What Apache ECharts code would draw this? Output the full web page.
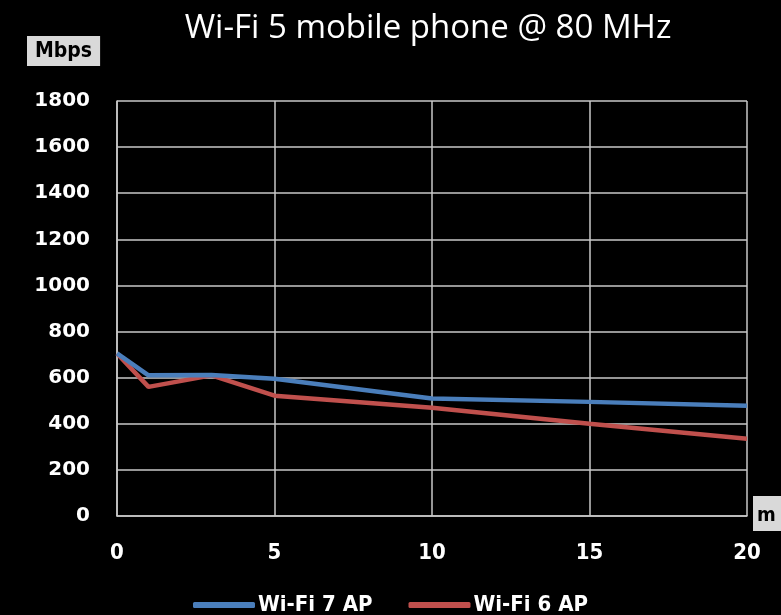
<!DOCTYPE html>
<html><head><meta charset="utf-8">
<script src="https://cdn.jsdelivr.net/npm/echarts@6/dist/echarts.min.js"></script>
<style>html,body{margin:0;padding:0;background:#000;}#c{width:781px;height:615px;}</style>
</head><body><div id="c"></div>
<script>
const distance = [0, 1, 3, 5, 10, 15, 20];
const wifi7 = [705, 610, 612, 595, 510, 495, 478];
const wifi6 = [705, 560, 610, 522, 470, 400, 335];
const seriesNames = ['Wi-Fi 7 AP', 'Wi-Fi 6 AP'];
const titleText = 'Wi-Fi 5 mobile phone @ 80 MHz';
const yUnit = 'Mbps';
const xUnit = 'm';

const chart = echarts.init(document.getElementById('c'), null, {renderer: 'canvas'});
const pair = (xs, ys) => xs.map((x, i) => [x, ys[i]]);
chart.setOption({
  backgroundColor: '#000',
  animation: false,
  title: [
    {text: titleText, left: 423, top: 7, textAlign: 'center',
     textStyle: {color: '#fff', fontFamily: 'Open Sans', fontWeight: 'normal', fontSize: 33}},
    {text: yUnit, left: 27, top: 36, backgroundColor: '#d9d9d9', padding: [5, 8, 3, 8],
     textStyle: {color: '#000', fontFamily: 'DejaVu Sans Condensed', fontWeight: 'bold', fontSize: 21, lineHeight: 22}},
    {text: xUnit, left: 753, top: 497, backgroundColor: '#d9d9d9', padding: [10, 8, 5, 4],
     textStyle: {color: '#000', fontFamily: 'DejaVu Sans Condensed', fontWeight: 'bold', fontSize: 20, lineHeight: 18}}
  ],
  legend: {
    top: 589, left: 'center',
    itemWidth: 62, itemHeight: 6, itemGap: 36,
    icon: 'roundRect',
    textStyle: {color: '#fff', fontFamily: 'DejaVu Sans Condensed', fontWeight: 'bold', fontSize: 22, lineHeight: 22, padding: [0, 0, 0, -2]},
    data: seriesNames
  },
  grid: {left: 117, right: 34, top: 101, bottom: 99},
  xAxis: {
    type: 'value', min: 0, max: 20, interval: 5,
    axisLine: {show: true, lineStyle: {color: '#c8c8c8', width: 1.5}},
    axisTick: {show: false},
    axisLabel: {color: '#fff', fontFamily: 'DejaVu Sans Condensed', fontWeight: 'bold', fontSize: 22, margin: 26},
    splitLine: {show: true, lineStyle: {color: '#c8c8c8', width: 1.5}}
  },
  yAxis: {
    type: 'value', min: 0, max: 1800, interval: 200,
    axisLine: {show: true, lineStyle: {color: '#c8c8c8', width: 1.5}},
    axisTick: {show: false},
    axisLabel: {color: '#fff', fontFamily: 'DejaVu Sans', fontWeight: 'bold', fontSize: 20, margin: 27,
                formatter: v => String(v)},
    splitLine: {show: true, lineStyle: {color: '#c8c8c8', width: 1.5}}
  },
  series: [
    {name: seriesNames[0], type: 'line', data: pair(distance, wifi7), showSymbol: false, symbol: 'none',
     color: '#4a7ebb', lineStyle: {width: 4.5, color: '#4a7ebb'}, z: 3},
    {name: seriesNames[1], type: 'line', data: pair(distance, wifi6), showSymbol: false, symbol: 'none',
     color: '#c0504d', lineStyle: {width: 4.5, color: '#c0504d'}, z: 2}
  ]
});
</script></body></html>
